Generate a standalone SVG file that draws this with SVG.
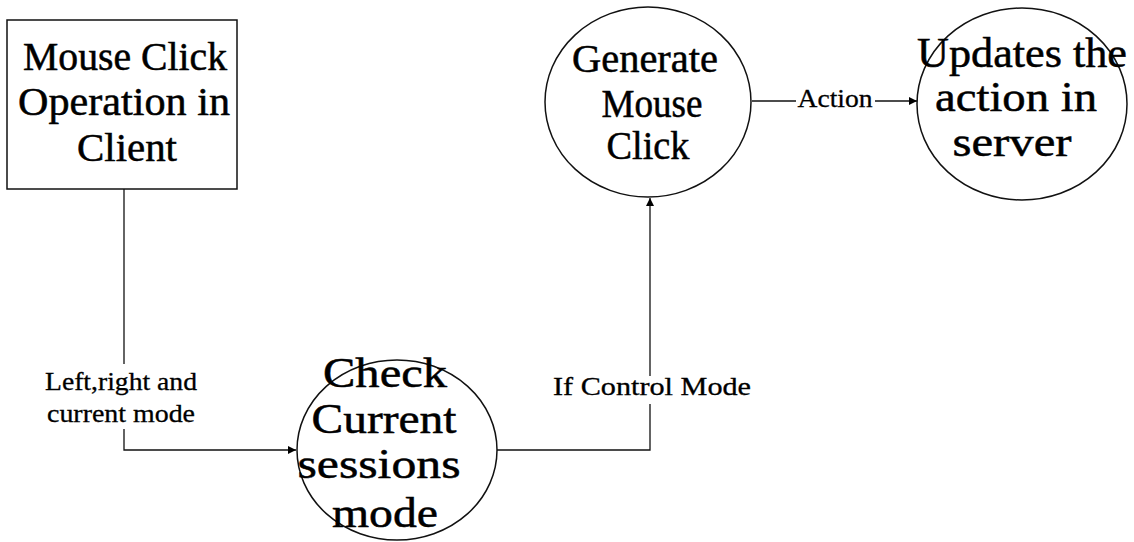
<svg xmlns="http://www.w3.org/2000/svg" width="1134" height="542" viewBox="0 0 1134 542">
<defs>
<marker id="arr" viewBox="0 0 10 10" refX="10" refY="5" markerWidth="9" markerHeight="8" markerUnits="userSpaceOnUse" orient="auto">
<path d="M0,0 L10,5 L0,10 z" fill="#000"/>
</marker>
<style>
.shape{fill:#fff;stroke:#111;stroke-width:1.5}
.main{font-family:"Liberation Serif","Times New Roman",serif;fill:#000;stroke:#000;stroke-width:0.5;text-anchor:middle}
.lbl{font-family:"Liberation Serif","Times New Roman",serif;fill:#000;stroke:#000;stroke-width:0.3;text-anchor:middle;font-size:25px}
.conn{fill:none;stroke:#111;stroke-width:1.3}
</style>
</defs>
<rect width="1134" height="542" fill="#fff"/>
<g id="connectors">
<path class="conn" d="M124,189 V364"/>
<path class="conn" d="M124,429 V450 H296" marker-end="url(#arr)"/>
<path class="conn" d="M497,450 H650 V404"/>
<path class="conn" d="M650,376 V198" marker-end="url(#arr)"/>
<path class="conn" d="M752,101 H796"/>
<path class="conn" d="M875,101 H917" marker-end="url(#arr)"/>
<text class="lbl" x="121" y="390" textLength="152" lengthAdjust="spacingAndGlyphs">Left,right and</text>
<text class="lbl" x="121" y="422" textLength="148" lengthAdjust="spacingAndGlyphs">current mode</text>
<text class="lbl" x="652" y="395" textLength="198" lengthAdjust="spacingAndGlyphs">If Control Mode</text>
<text class="lbl" x="835" y="107" textLength="75" lengthAdjust="spacingAndGlyphs">Action</text>
</g>
<g id="client">
<rect class="shape" x="7" y="20" width="230" height="169"/>
<text class="main" font-size="39" x="125" y="70" textLength="204" lengthAdjust="spacingAndGlyphs">Mouse Click</text>
<text class="main" font-size="39" x="124" y="115" textLength="212" lengthAdjust="spacingAndGlyphs">Operation in</text>
<text class="main" font-size="39" x="127" y="161" textLength="100" lengthAdjust="spacingAndGlyphs">Client</text>
</g>
<g id="check">
<ellipse class="shape" cx="397" cy="450" rx="100" ry="90"/>
<text class="main" font-size="42" x="385" y="387" textLength="124" lengthAdjust="spacingAndGlyphs">Check</text>
<text class="main" font-size="42" x="384" y="433" textLength="145" lengthAdjust="spacingAndGlyphs">Current</text>
<text class="main" font-size="42" x="379" y="478" textLength="163" lengthAdjust="spacingAndGlyphs">sessions</text>
<text class="main" font-size="42" x="385" y="527" textLength="106" lengthAdjust="spacingAndGlyphs">mode</text>
</g>
<g id="generate">
<ellipse class="shape" cx="648" cy="102" rx="103" ry="95"/>
<text class="main" font-size="39" x="645" y="72" textLength="146" lengthAdjust="spacingAndGlyphs">Generate</text>
<text class="main" font-size="39" x="652" y="117" textLength="101" lengthAdjust="spacingAndGlyphs">Mouse</text>
<text class="main" font-size="39" x="648" y="159" textLength="83" lengthAdjust="spacingAndGlyphs">Click</text>
</g>
<g id="updates">
<ellipse class="shape" cx="1022" cy="104" rx="105" ry="96"/>
<text class="main" font-size="42" x="1022" y="67" textLength="210" lengthAdjust="spacingAndGlyphs">Updates the</text>
<text class="main" font-size="42" x="1016" y="111" textLength="162" lengthAdjust="spacingAndGlyphs">action in</text>
<text class="main" font-size="42" x="1012" y="156" textLength="119" lengthAdjust="spacingAndGlyphs">server</text>
</g>
</svg>
